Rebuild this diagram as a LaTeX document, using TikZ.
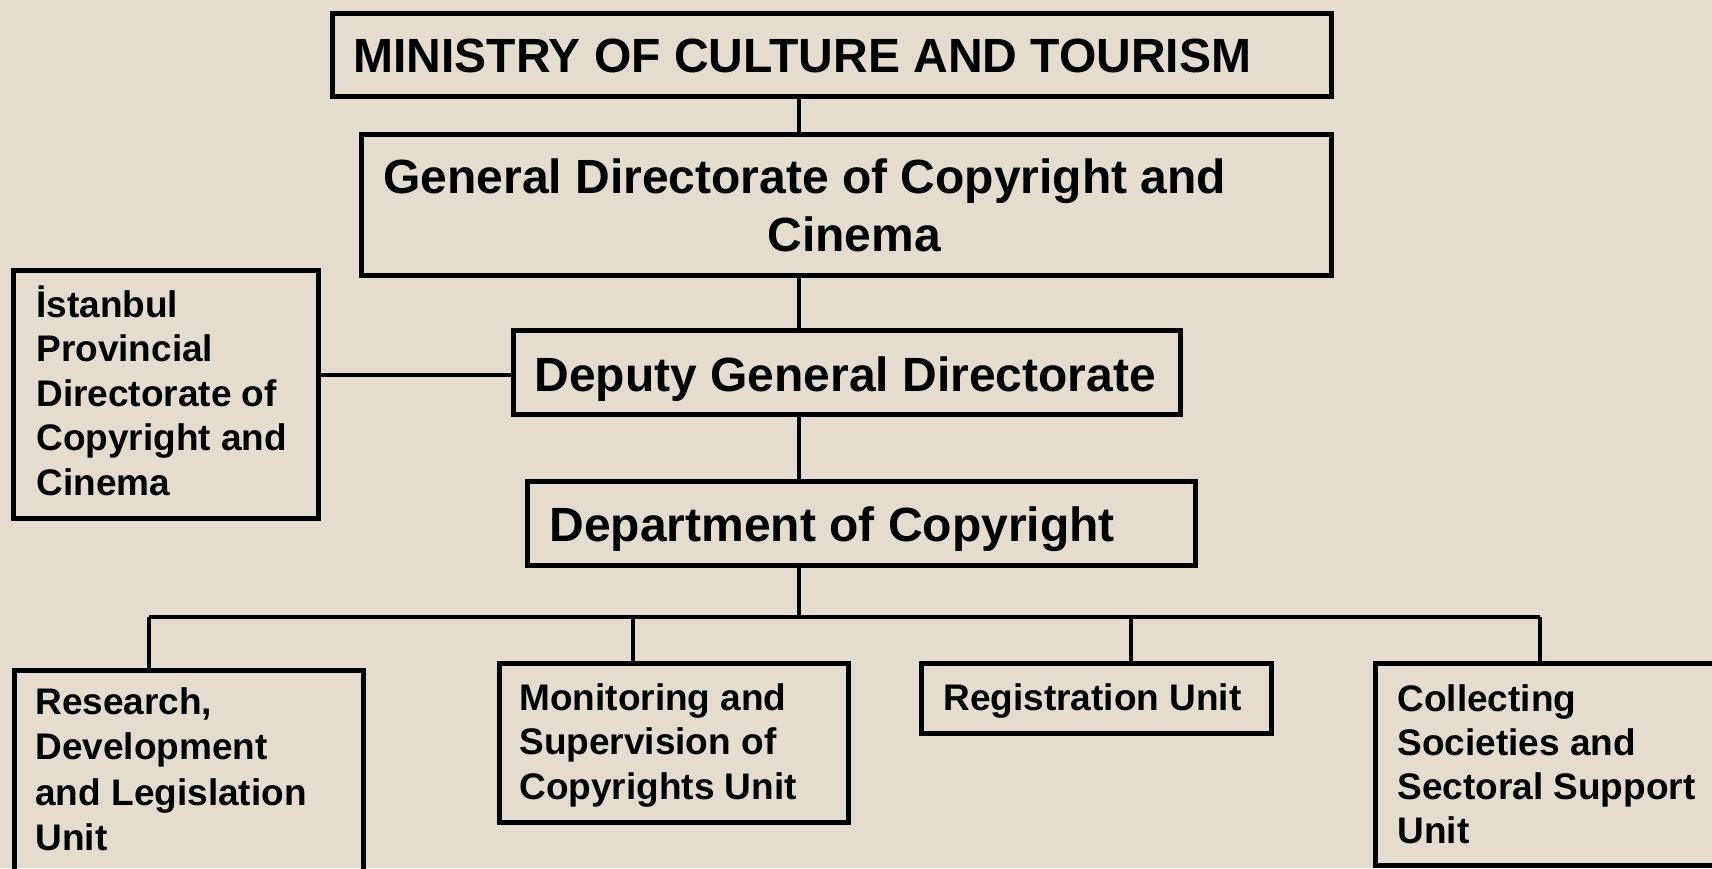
\documentclass[tikz,border=0pt]{standalone}
\usepackage{fontspec}
\setmainfont{Liberation Sans}
\definecolor{paper}{RGB}{227,220,207}
\begin{document}
\begin{tikzpicture}[x=0.5pt,y=-0.5pt,
  box/.style={draw=black, line width=2.3pt, rectangle, inner sep=0pt, anchor=north west},
  conn/.style={draw=black, line width=1.8pt},
  big/.style={anchor=base west, inner sep=0pt, font=\fontsize{24pt}{29pt}\selectfont\bfseries, align=left},
  small/.style={anchor=base west, inner sep=0pt, font=\fontsize{18.5pt}{22.3pt}\selectfont\bfseries, align=left}]
\fill[paper] (0,0) rectangle (1712,868);
\useasboundingbox (0,0) rectangle (1712,868);
\clip (0,0) rectangle (1712,868);

% boxes
\node[box, minimum width=499.5pt, minimum height=41.5pt] (min) at (330,11) {};
\node[box, minimum width=485pt, minimum height=70.5pt] (gd) at (359,132) {};
\node[box, minimum width=333.5pt, minimum height=42pt] (dep) at (511,328) {};
\node[box, minimum width=152.5pt, minimum height=124pt] (ist) at (11,268) {};
\node[box, minimum width=334pt, minimum height=42pt] (dept) at (525,479) {};
\node[box, minimum width=174.5pt, minimum height=125pt] (res) at (12,668) {};
\node[box, minimum width=174.5pt, minimum height=79.5pt] (mon) at (497,661) {};
\node[box, minimum width=175pt, minimum height=35pt] (reg) at (919,661) {};
\node[box, minimum width=180pt, minimum height=101pt] (col) at (1373,661) {};

% texts (multi-line nodes: base anchor sits on the last line)
\node[big] (min-t) at (353,72) {MINISTRY OF CULTURE AND TOURISM};
\node[big] (gd-t) at (383,251) {General Directorate of Copyright and\\\hspace*{192pt}Cinema};
\node[big] (dep-t) at (534,391) {Deputy General Directorate};
\node[big] (dept-t) at (549,541) {Department of Copyright};
\node[small] (ist-t) at (36,495.4) {İstanbul\\Provincial\\Directorate of\\Copyright and\\Cinema};
\node[small, font=\fontsize{18.5pt}{22.7pt}\selectfont\bfseries] (res-t) at (35,850.5) {Research,\\Development\\and Legislation\\Unit};
\node[small] (mon-t) at (519,799.2) {Monitoring and\\Supervision of\\Copyrights Unit};
\node[small] (reg-t) at (943,710) {Registration Unit};
\node[small, font=\fontsize{18.5pt}{22pt}\selectfont\bfseries] (col-t) at (1397,843) {Collecting\\Societies and\\Sectoral Support\\Unit};

% connector helpers
\coordinate (sp) at (799,0);
\coordinate (ly) at (0,375);
\coordinate (b1) at (149,617);
\coordinate (b2) at (633,617);
\coordinate (b3) at (1131,617);
\coordinate (b4) at (1540,617);

% connectors
\draw[conn] (min.south -| sp) -- (gd.north -| sp);
\draw[conn] (gd.south -| sp) -- (dep.north -| sp);
\draw[conn] (dep.south -| sp) -- (dept.north -| sp);
\draw[conn] (ist.east |- ly) -- (dep.west |- ly);
\draw[conn] (dept.south -| sp) -- (sp |- b1);
\draw[conn] (b1) -- (b4);
\draw[conn] (b1) -- (res.north -| b1);
\draw[conn] (b2) -- (mon.north -| b2);
\draw[conn] (b3) -- (reg.north -| b3);
\draw[conn] (b4) -- (col.north -| b4);
\end{tikzpicture}
\end{document}
